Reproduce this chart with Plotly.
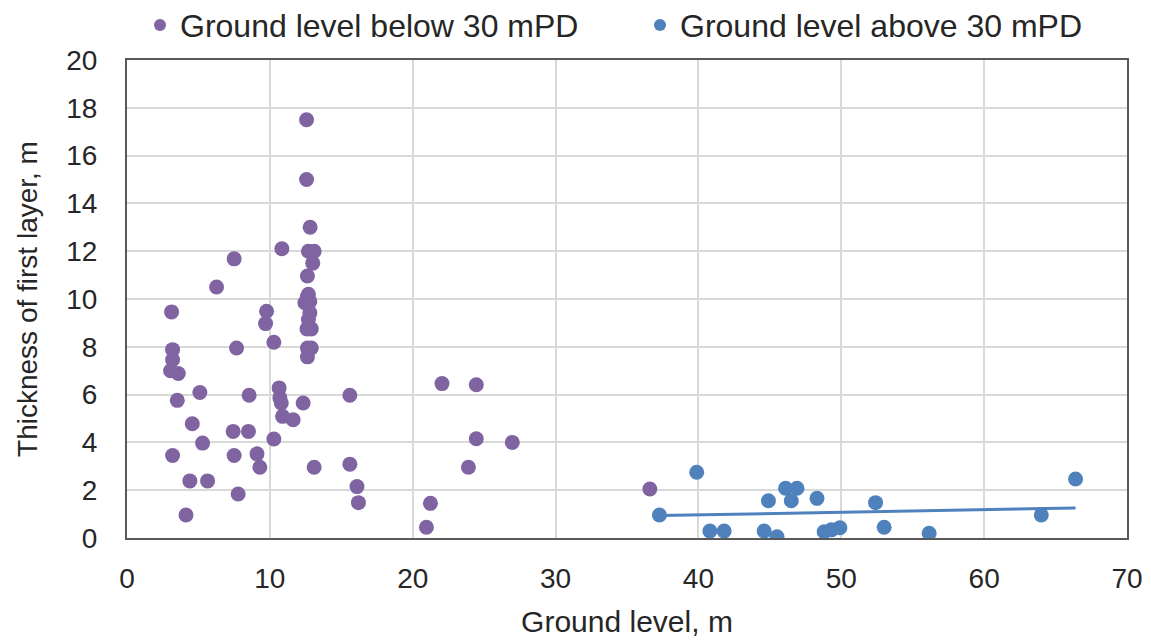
import numpy as np
import plotly.graph_objects as go

# Ground level below 30 mPD
below_x = [12.57, 12.57, 12.82, 10.84, 7.5, 12.7, 13.1, 13.0, 12.63, 6.27, 12.63,
           12.7, 12.45, 12.8, 12.8, 12.7, 12.6, 12.9,
           3.12, 9.77, 9.7, 7.67, 10.28, 12.63, 12.9, 12.63,
           3.19, 3.19, 3.05, 3.59, 5.1, 3.52, 8.55, 10.65, 10.7, 10.8, 12.33, 15.6,
           10.89, 11.63, 4.57, 7.43, 8.5, 10.28, 5.29, 3.19, 7.5, 9.1, 9.3, 13.1, 15.6,
           4.4, 5.64, 16.1, 16.2, 7.78, 4.13,
           22.05, 24.45, 24.45, 26.97, 23.9, 21.24, 20.96, 36.6]
below_y = [17.5, 15.0, 13.0, 12.1, 11.68, 12.0, 12.0, 11.5, 10.96, 10.5, 10.1,
           10.2, 9.84, 9.9, 9.42, 9.14, 8.75, 8.75,
           9.46, 9.49, 8.97, 7.95, 8.19, 7.95, 7.95, 7.58,
           7.88, 7.46, 7.0, 6.88, 6.09, 5.76, 5.97, 6.28, 5.87, 5.65, 5.65, 5.97,
           5.09, 4.95, 4.78, 4.46, 4.46, 4.14, 3.97, 3.45, 3.45, 3.52, 2.96, 2.96, 3.09,
           2.39, 2.39, 2.15, 1.48, 1.84, 0.96,
           6.46, 6.41, 4.15, 4.0, 2.96, 1.45, 0.45, 2.05]

# Ground level above 30 mPD
above_x = [37.27, 39.88, 40.8, 41.8, 44.9, 44.6, 45.5, 46.1, 46.9, 46.5, 48.3,
           48.8, 49.3, 49.9, 52.4, 53.0, 56.15, 64.0, 66.4]
above_y = [0.96, 2.75, 0.29, 0.29, 1.56, 0.29, 0.05, 2.08, 2.08, 1.56, 1.66,
           0.26, 0.34, 0.43, 1.48, 0.45, 0.2, 0.96, 2.47]

x_ticks = [0, 10, 20, 30, 40, 50, 60, 70]
y_ticks = [0, 2, 4, 6, 8, 10, 12, 14, 16, 18, 20]

PURPLE = "#8064A2"
BLUE = "#4F81BD"
FONT = "Liberation Sans, Arial, sans-serif"
TXT = "#262626"

# linear trendline of the upper series (least squares)
slope, intercept = np.polyfit(above_x, above_y, 1)
tx = np.array([min(above_x), max(above_x)])
ty = slope * tx + intercept

fig = go.Figure()
fig.add_trace(go.Scatter(x=below_x, y=below_y, mode="markers", showlegend=False,
                         marker=dict(color=PURPLE, size=15)))
fig.add_trace(go.Scatter(x=tx, y=ty, mode="lines", showlegend=False,
                         line=dict(color=BLUE, width=3)))
fig.add_trace(go.Scatter(x=above_x, y=above_y, mode="markers", showlegend=False,
                         marker=dict(color=BLUE, size=15)))
# legend entries
fig.add_trace(go.Scatter(x=[None], y=[None], mode="markers", name="Ground level below 30 mPD",
                         marker=dict(color=PURPLE, size=12), legend="legend"))
fig.add_trace(go.Scatter(x=[None], y=[None], mode="markers", name="Ground level above 30 mPD",
                         marker=dict(color=BLUE, size=12), legend="legend2"))

axis_common = dict(showgrid=True, gridcolor="#D9D9D9", gridwidth=1.5,
                   showline=True, linecolor="#595959", linewidth=2, mirror=True,
                   zeroline=False, ticks="", tickfont=dict(size=28, color=TXT, family=FONT))

fig.update_xaxes(range=[0, 70], tickvals=x_ticks, ticktext=[str(v) for v in x_ticks],
                 title=dict(text="Ground level, m", font=dict(size=30, color=TXT, family=FONT), standoff=18),
                 ticklabelstandoff=14, **axis_common)
fig.update_yaxes(range=[0, 20], tickvals=y_ticks, ticktext=[str(v) for v in y_ticks],
                 title=dict(text="Thickness of first layer, m", font=dict(size=28, color=TXT, family=FONT), standoff=20),
                 ticklabelstandoff=22, **axis_common)

leg_common = dict(orientation="h", yanchor="middle", y=1.073, xanchor="left",
                  font=dict(size=32, color=TXT, family=FONT), bgcolor="rgba(0,0,0,0)")
fig.update_layout(
    width=1151, height=641,
    margin=dict(l=127, r=24, t=60, b=103, autoexpand=False),
    plot_bgcolor="white", paper_bgcolor="white",
    font=dict(family=FONT, color=TXT),
    legend=dict(x=0.013, **leg_common),
    legend2=dict(x=0.513, **leg_common),
)

fig.write_html("out.html")
